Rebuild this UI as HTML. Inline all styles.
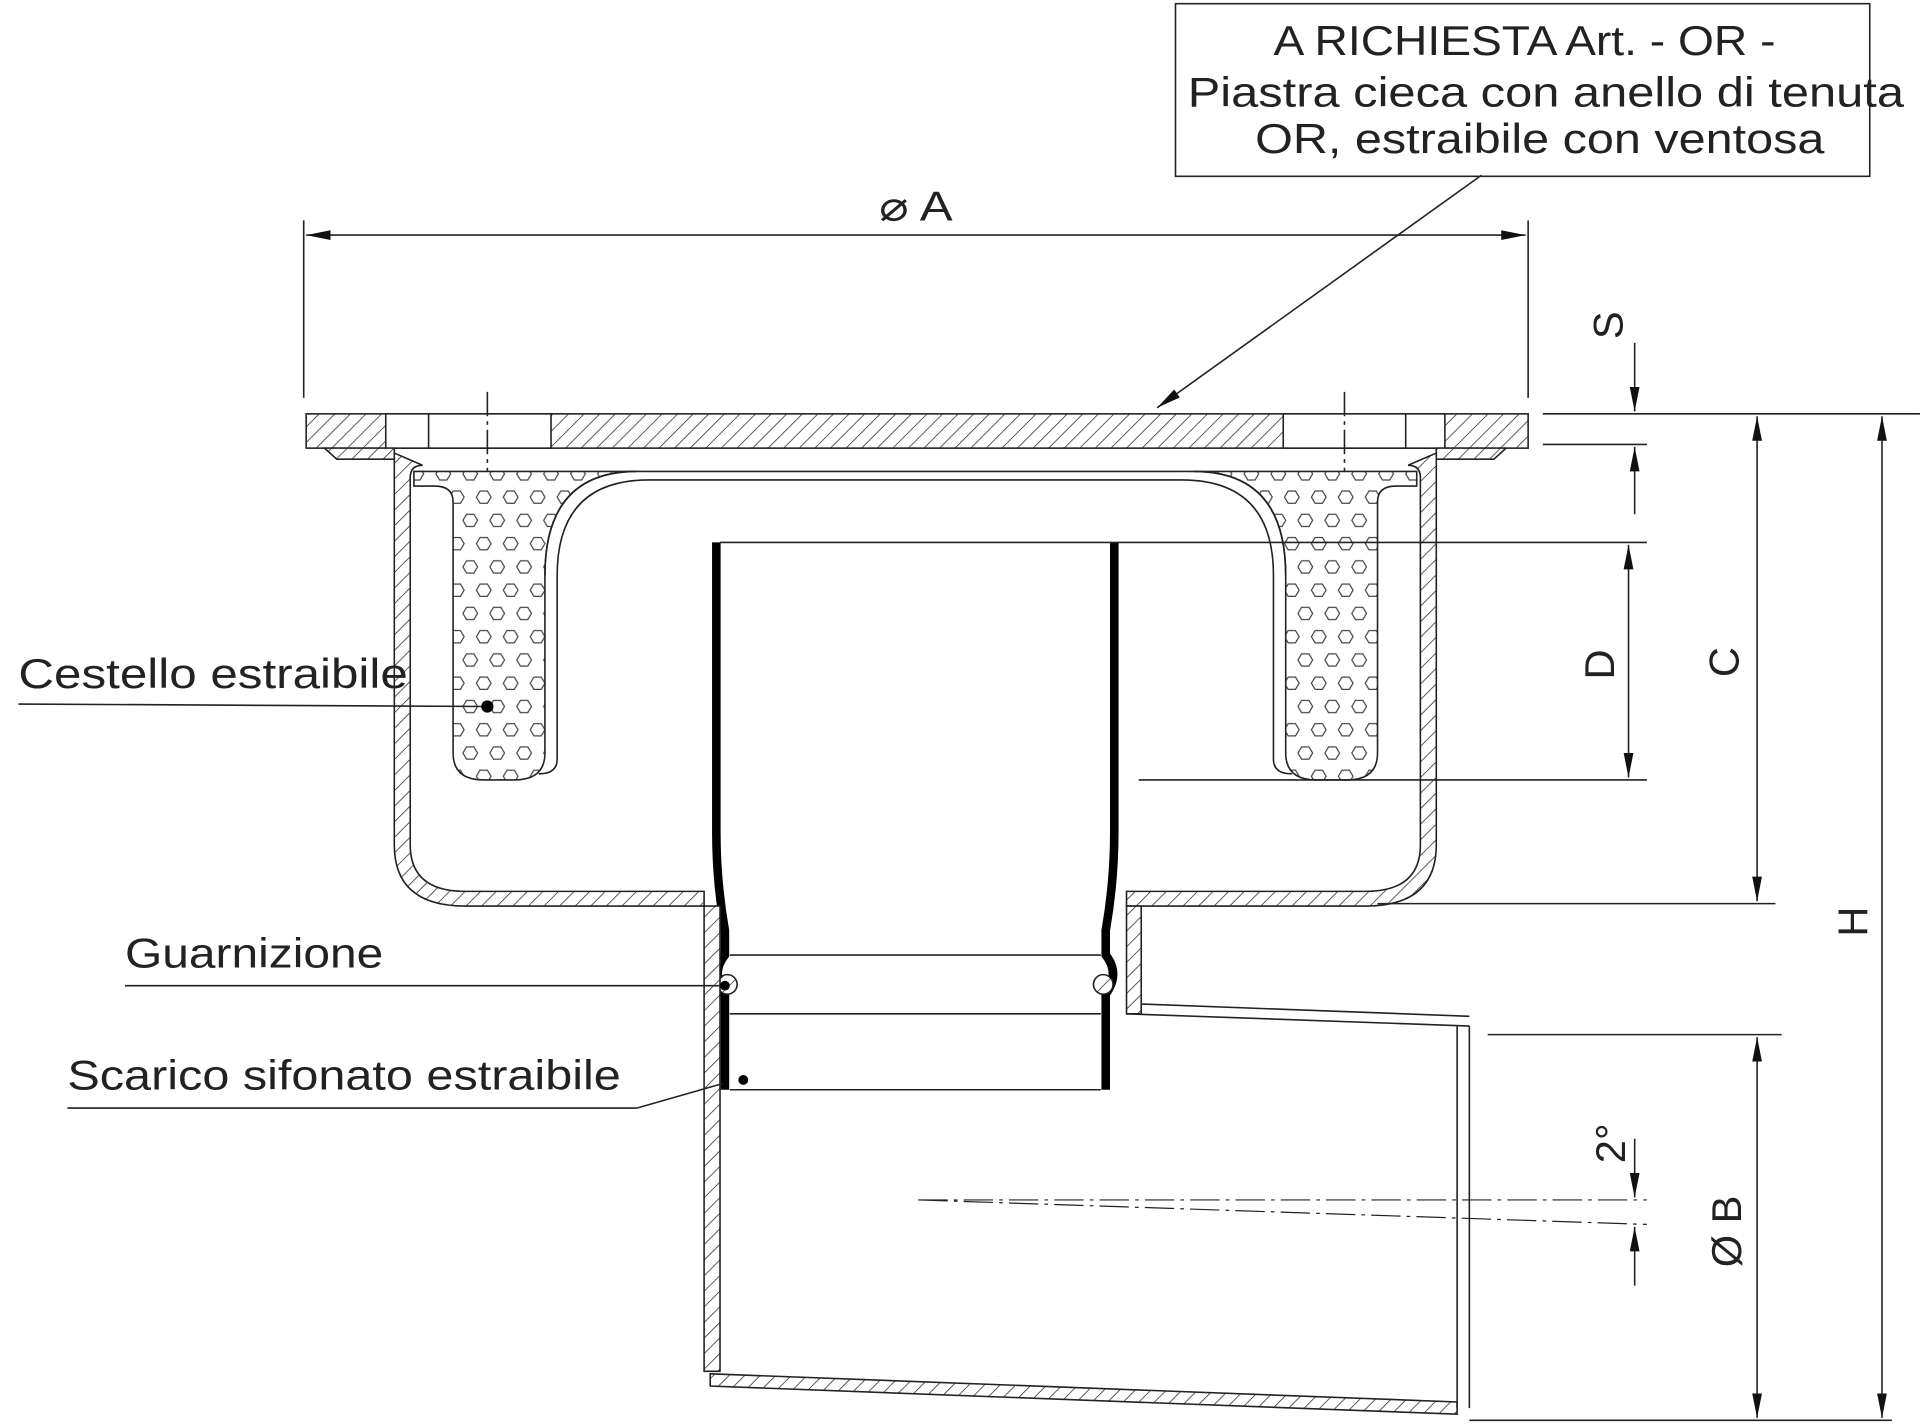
<!DOCTYPE html>
<html><head><meta charset="utf-8"><style>
html,body{margin:0;padding:0;background:#fff;}
svg{display:block;}
text{font-family:"Liberation Sans",sans-serif;fill:#222;}
</style></head><body>
<svg width="1920" height="1424" viewBox="0 0 1568 1163" xmlns="http://www.w3.org/2000/svg">
<defs>
<pattern id="h" width="9" height="9" patternUnits="userSpaceOnUse" patternTransform="rotate(45)">
<rect width="9" height="9" fill="#fff"/><line x1="0" y1="0" x2="0" y2="9" stroke="#333" stroke-width="1.3"/></pattern>
<pattern id="hex" width="22" height="38" patternUnits="userSpaceOnUse">
<rect width="22" height="38" fill="#fff"/>
<polygon points="4,7 7,2 13,2 16,7 13,12 7,12" fill="none" stroke="#444" stroke-width="1"/>
<polygon points="15,26 18,21 24,21 27,26 24,31 18,31" fill="none" stroke="#444" stroke-width="1"/>
<polygon points="-7,26 -4,21 2,21 5,26 2,31 -4,31" fill="none" stroke="#444" stroke-width="1"/>
</pattern>
<marker id="a" viewBox="0 0 20 8" refX="20" refY="4" markerWidth="20" markerHeight="8" orient="auto-start-reverse" markerUnits="userSpaceOnUse">
<path d="M0,0 L20,4 L0,8 z" fill="#111"/></marker>
</defs>
<g stroke="#222" stroke-width="1.3" fill="none">
<rect x="960" y="3" width="567" height="141" fill="#fff"/>
<line x1="1210" y1="143" x2="945" y2="333" marker-end="url(#a)"/>
<line x1="248" y1="180" x2="248" y2="325"/><line x1="1248" y1="180" x2="1248" y2="325"/>
<line x1="250" y1="192" x2="1246" y2="192" marker-start="url(#a)" marker-end="url(#a)"/>
<rect x="250" y="338" width="998" height="28" fill="url(#h)"/>
<rect x="315" y="338" width="135" height="28" fill="#fff"/>
<rect x="1048" y="338" width="132" height="28" fill="#fff"/>
<line x1="350" y1="338" x2="350" y2="366"/><line x1="1148" y1="338" x2="1148" y2="366"/>
<line x1="398" y1="320" x2="398" y2="385" stroke-dasharray="20,4,3,4"/>
<line x1="1098" y1="320" x2="1098" y2="385" stroke-dasharray="20,4,3,4"/>
<path d="M265,366 L322,366 L322,375 L275,375 Z" fill="url(#h)"/>
<path d="M1230,366 L1173,366 L1173,375 L1220,375 Z" fill="url(#h)"/>
<path d="M322,370 L322,690 Q322,740 380,740 L575,740 L575,728 L380,728 Q335,728 335,690 L335,390 Q335,380 345,380 Z" fill="url(#h)"/>
<path d="M1173,370 L1173,690 Q1173,740 1115,740 L920,740 L920,728 L1115,728 Q1160,728 1160,690 L1160,390 Q1160,380 1150,380 Z" fill="url(#h)"/>
<path d="M338,385 L520,385 Q445,385 445,470 L445,615 Q445,637 420,637 L395,637 Q370,637 370,615 L370,410 Q370,397 355,397 L338,397 Z" fill="url(#hex)"/>
<path d="M1157,385 L975,385 Q1050,385 1050,470 L1050,615 Q1050,637 1075,637 L1100,637 Q1125,637 1125,615 L1125,410 Q1125,397 1140,397 L1157,397 Z" fill="url(#hex)"/>
<path d="M520,385 L975,385 Q1050,385 1050,470 M520,385 Q445,385 445,470"/>
<path d="M530,392 L965,392 Q1040,392 1040,470 L1040,620 Q1040,632 1055,632 M530,392 Q455,392 455,470 L455,620 Q455,632 440,632"/>
<path d="M585,443 L585,680 Q585,720 592,760 L592,780 Q580,795 592,812 L592,828 L592,890" stroke="#000" stroke-width="7"/>
<path d="M910,443 L910,680 Q910,720 903,760 L903,780 Q915,795 903,812 L903,828 L903,890" stroke="#000" stroke-width="7"/>
<circle cx="594" cy="804" r="8" fill="url(#h)"/><circle cx="901" cy="804" r="8" fill="url(#h)"/>
<line x1="588" y1="443" x2="1345" y2="443"/>
<line x1="596" y1="780" x2="899" y2="780"/>
<line x1="596" y1="828" x2="899" y2="828"/>
<line x1="596" y1="890" x2="899" y2="890"/>
<line x1="930" y1="637" x2="1345" y2="637"/>
<path d="M575,740 L588,740 L588,1120 L575,1120 Z" fill="url(#h)"/>
<path d="M920,740 L920,828 L932,828 L932,740 Z" fill="url(#h)"/>
<path d="M920,828 L1200,838 M932,820 L1200,830"/>
<path d="M580,1122 L1190,1145 L1190,1155 L580,1132 Z" fill="url(#h)"/>
<line x1="1190" y1="838" x2="1190" y2="1150"/><line x1="1200" y1="838" x2="1200" y2="1150"/>
<line x1="750" y1="980" x2="1345" y2="980" stroke-dasharray="24,5,3,5" stroke-width="1"/>
<line x1="750" y1="980" x2="1345" y2="1000" stroke-dasharray="24,5,3,5" stroke-width="1"/>
<line x1="1260" y1="338" x2="1568" y2="338"/>
<line x1="1260" y1="363" x2="1345" y2="363"/>
<line x1="1125" y1="738" x2="1450" y2="738"/>
<line x1="1215" y1="845" x2="1455" y2="845"/>
<line x1="1200" y1="1160" x2="1545" y2="1160"/>
<line x1="1335" y1="280" x2="1335" y2="336" marker-end="url(#a)"/>
<line x1="1335" y1="420" x2="1335" y2="365" marker-end="url(#a)"/>
<line x1="1330" y1="445" x2="1330" y2="635" marker-start="url(#a)" marker-end="url(#a)"/>
<line x1="1435" y1="340" x2="1435" y2="736" marker-start="url(#a)" marker-end="url(#a)"/>
<line x1="1537" y1="340" x2="1537" y2="1158" marker-start="url(#a)" marker-end="url(#a)"/>
<line x1="1435" y1="847" x2="1435" y2="1158" marker-start="url(#a)" marker-end="url(#a)"/>
<line x1="1335" y1="930" x2="1335" y2="978" marker-end="url(#a)"/>
<line x1="1335" y1="1050" x2="1335" y2="1002" marker-end="url(#a)"/>
<line x1="15" y1="575" x2="398" y2="577"/>
<line x1="102" y1="805" x2="592" y2="805"/>
<polyline points="55,905 520,905 590,885"/>
</g>
<circle cx="398" cy="577" r="5" fill="#000"/><circle cx="592" cy="805" r="4" fill="#000"/><circle cx="607" cy="882" r="4" fill="#000"/>
<g font-size="34">
<text x="1040" y="45" textLength="410" lengthAdjust="spacingAndGlyphs">A RICHIESTA Art. - OR -</text>
<text x="970" y="87" textLength="585" lengthAdjust="spacingAndGlyphs">Piastra cieca con anello di tenuta</text>
<text x="1025" y="125" textLength="465" lengthAdjust="spacingAndGlyphs">OR, estraibile con ventosa</text>
<text x="718" y="180" textLength="60" lengthAdjust="spacingAndGlyphs">⌀ A</text>
<text x="15" y="562" textLength="318" lengthAdjust="spacingAndGlyphs">Cestello estraibile</text>
<text x="102" y="790" textLength="211" lengthAdjust="spacingAndGlyphs">Guarnizione</text>
<text x="55" y="890" textLength="452" lengthAdjust="spacingAndGlyphs">Scarico sifonato estraibile</text>
<text transform="translate(1325,277) rotate(-90)">S</text>
<text transform="translate(1318,555) rotate(-90)">D</text>
<text transform="translate(1420,553) rotate(-90)">C</text>
<text transform="translate(1525,765) rotate(-90)">H</text>
<text transform="translate(1422,1035) rotate(-90)">Ø B</text>
<text transform="translate(1327,950) rotate(-90)">2°</text>
</g>
</svg>
</body></html>
